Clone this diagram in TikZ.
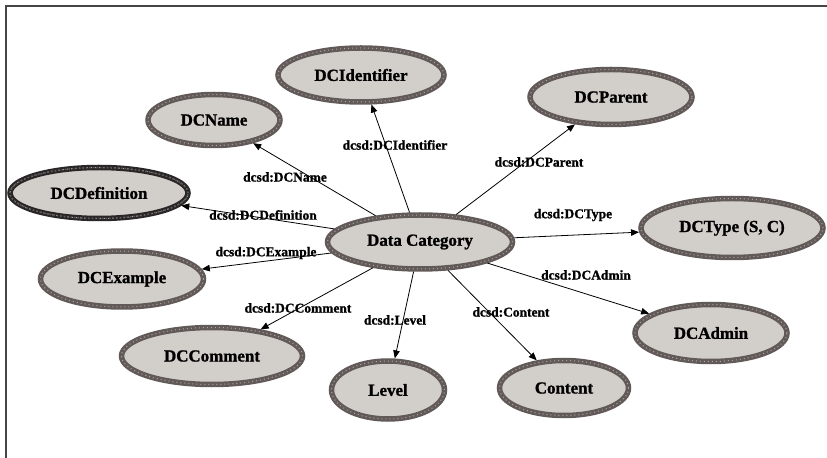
\documentclass[tikz,border=0pt]{standalone}
\usepackage{fontspec}
\setmainfont{Liberation Serif}
\newfontfamily\heavyfont{Liberation Serif}[BoldFeatures={FakeBold=1.2}]
\usepackage{xcolor}
\usetikzlibrary{shapes.geometric, arrows.meta, positioning}

\definecolor{ringgray}{RGB}{98,90,88}
\definecolor{ringdark}{RGB}{40,38,38}
\definecolor{ringfill}{RGB}{210,206,202}
\definecolor{ringdot}{RGB}{170,164,160}
\definecolor{framegray}{RGB}{70,70,70}

\begin{document}
\begin{tikzpicture}[
                        x = 1bp, y = -1bp,
                        cat/.style  = {ellipse, draw=ringgray, line width=5.5bp, fill=ringfill, inner sep=0pt,
                                      font=\heavyfont\bfseries\fontsize{17}{20}\selectfont,
                                      postaction={draw=ringdot, line width=1bp, dash pattern=on 1bp off 3bp}},
                        catdark/.style = {cat, draw=ringdark, postaction={draw=ringgray, line width=1.5bp, dash pattern=on 1.5bp off 2bp}},
                        lbl/.style  = {inner sep=1pt, font=\heavyfont\bfseries\fontsize{13.5}{16}\selectfont},
                        ar/.style   = {-{Triangle[length=8bp, width=6.5bp]}, line width=0.8bp}
                  ]
                  \useasboundingbox (0,0) rectangle (827,458);
                  \draw[framegray, line width=2bp] (6,458) -- (6,6) -- (827,6);

                  \node[cat, minimum width=185bp, minimum height=54bp] (dc)      at (420,242) {Data Category};
                  \node[cat, minimum width=166bp, minimum height=54bp] (ident)   at (361,75)  {DCIdentifier};
                  \node[cat, minimum width=132bp, minimum height=51bp] (name)    at (214,120) {DCName};
                  \node[catdark, minimum width=178bp, minimum height=51bp] (defn) at (99,193) {DCDefinition};
                  \node[cat, minimum width=162bp, minimum height=55bp] (parent)  at (611,97)  {DCParent};
                  \node[cat, minimum width=182bp, minimum height=59bp] (type)    at (732,228) {DCType (S, C)};
                  \node[cat, minimum width=163bp, minimum height=56bp] (example) at (122,279) {DCExample};
                  \node[cat, minimum width=181bp, minimum height=57bp] (comment) at (212,356) {DCComment};
                  \node[cat, minimum width=113bp, minimum height=58bp] (level)   at (388,390) {Level};
                  \node[cat, minimum width=129bp, minimum height=55bp] (content) at (564,388) {Content};
                  \node[cat, minimum width=152bp, minimum height=57bp] (admin)   at (711,333) {DCAdmin};

                  \draw[ar] (dc) -- (ident);
                  \draw[ar] (dc) -- (name);
                  \draw[ar] (dc) -- (defn);
                  \draw[ar] (dc) -- (parent);
                  \draw[ar] (dc) -- (type);
                  \draw[ar] (dc) -- (example);
                  \draw[ar] (dc) -- (comment);
                  \draw[ar] (dc) -- (level);
                  \draw[ar] (dc) -- (content);
                  \draw[ar] (dc) -- (admin);

                  \node[lbl] (lident)   at (395,145) {dcsd:DCIdentifier};
                  \node[lbl] (lname)    at (285,177) {dcsd:DCName};
                  \node[lbl] (ldefn)    at (263,215) {dcsd:DCDefinition};
                  \node[lbl] (lparent)  at (539,162) {dcsd:DCParent};
                  \node[lbl] (ltype)    at (573,215) {dcsd:DCType};
                  \node[lbl] (lexample) at (266,253) {dcsd:DCExample};
                  \node[lbl] (lcomment) at (298,308) {dcsd:DCComment};
                  \node[lbl] (llevel)   at (395,320) {dcsd:Level};
                  \node[lbl] (lcontent) at (511,312) {dcsd:Content};
                  \node[lbl] (ladmin)   at (586,275) {dcsd:DCAdmin};
            \end{tikzpicture}
\end{document}
